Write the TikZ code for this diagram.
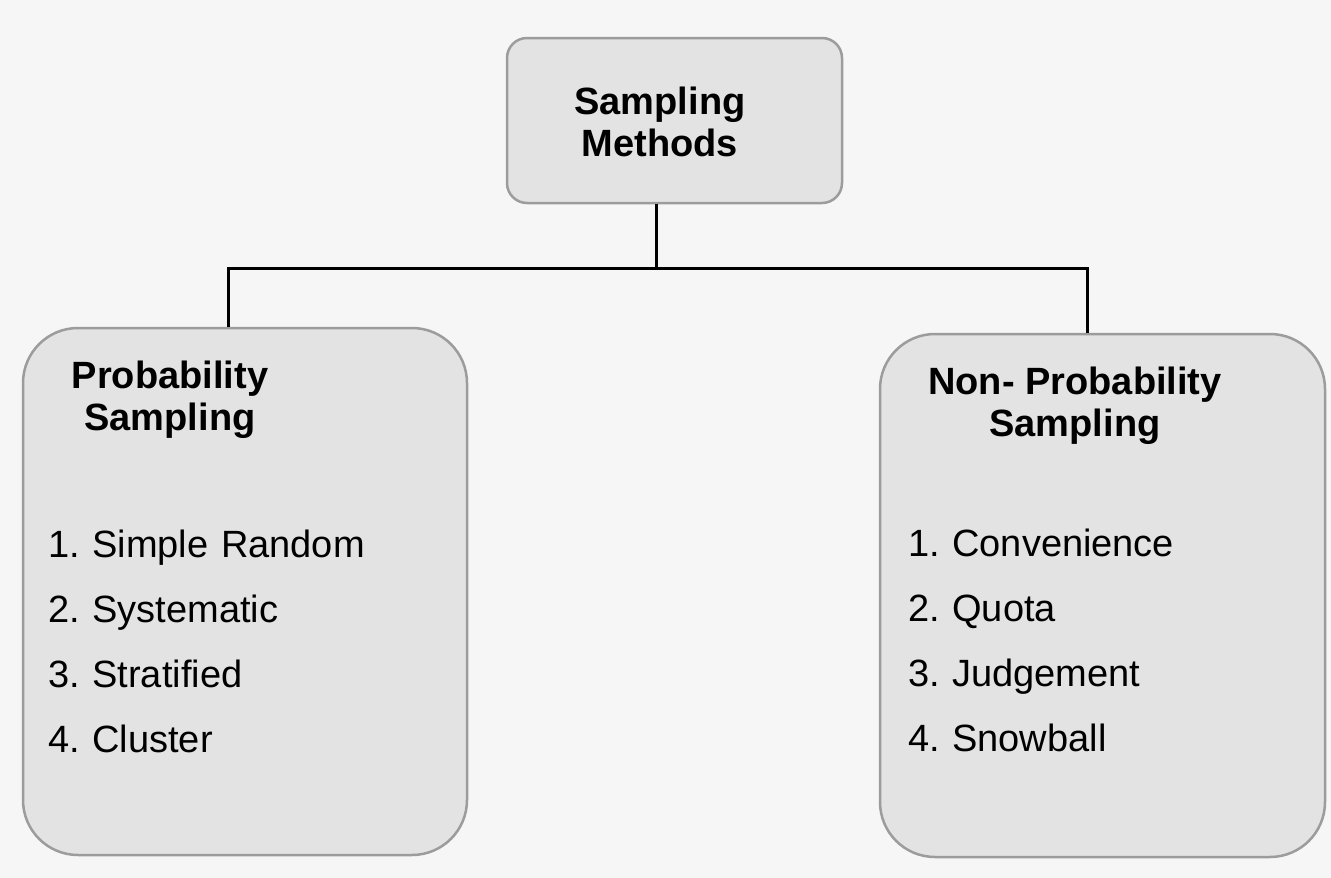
\documentclass[tikz,border=0pt]{standalone}
\usepackage{fontspec}
\setmainfont{Liberation Sans}
\usetikzlibrary{positioning}
\definecolor{boxfill}{HTML}{E3E3E3}
\definecolor{boxline}{HTML}{9C9C9C}
\definecolor{pagebg}{HTML}{F6F6F6}
\frenchspacing

\tikzstyle{block} = [rectangle, draw=boxline, fill=boxfill, line width=2.5pt, inner sep=0pt]
\tikzstyle{head} = [align=center, font=\bfseries\fontsize{38}{42}\selectfont, inner sep=0pt]
\tikzstyle{entry} = [text width=330pt, align=left, font=\fontsize{38}{44}\selectfont,
    text height=28pt, text depth=8pt, inner sep=0pt]
\tikzstyle{line} = [draw, black, line width=3pt]

\begin{document}
\begin{tikzpicture}[x=1pt, y=1pt, node distance=65pt]
\fill [pagebg] (0,0) rectangle (1331,-878);
\useasboundingbox (0,0) rectangle (1331,-878);

% boxes
\node [block, rounded corners=20pt, minimum width=335pt, minimum height=165pt] (main) at (674.5,-120.5) {};
\node [block, rounded corners=55pt, minimum width=444pt, minimum height=527pt] (prob) at (245,-591.5) {};
\node [block, rounded corners=55pt, minimum width=445pt, minimum height=523pt] (nonprob) at (1102.5,-595.5) {};

% titles
\node [head, below=50pt of main.north, xshift=-14.5pt] (maintitle) {Sampling\\Methods};
\node [head, below=34pt of prob.north, xshift=-75pt] (probtitle) {Probability\\Sampling};
\node [head, below=34pt of nonprob.north, xshift=-27.5pt] (nonprobtitle) {Non- Probability\\Sampling};

% lists
\node [entry, below of=probtitle, node distance=148pt, xshift=43pt] (p1) {1. Simple Random};
\node [entry, below of=p1] (p2) {2. Systematic};
\node [entry, below of=p2] (p3) {3. Stratified};
\node [entry, below of=p3] (p4) {4. Cluster};

\node [entry, below of=nonprobtitle, node distance=141pt, xshift=-2pt] (n1) {1. Convenience};
\node [entry, below of=n1] (n2) {2. Quota};
\node [entry, below of=n2] (n3) {3. Judgement};
\node [entry, below of=n3] (n4) {4. Snowball};

% tree lines
\coordinate (hub) at (656,-268);
\coordinate (lhook) at (228,-268);
\coordinate (rhook) at (1087,-268);
\path [line] (main.south -| hub) -- (hub);
\path [line] (prob.north -| lhook) -- (lhook) -- (rhook) -- (nonprob.north -| rhook);

\end{tikzpicture}
\end{document}
